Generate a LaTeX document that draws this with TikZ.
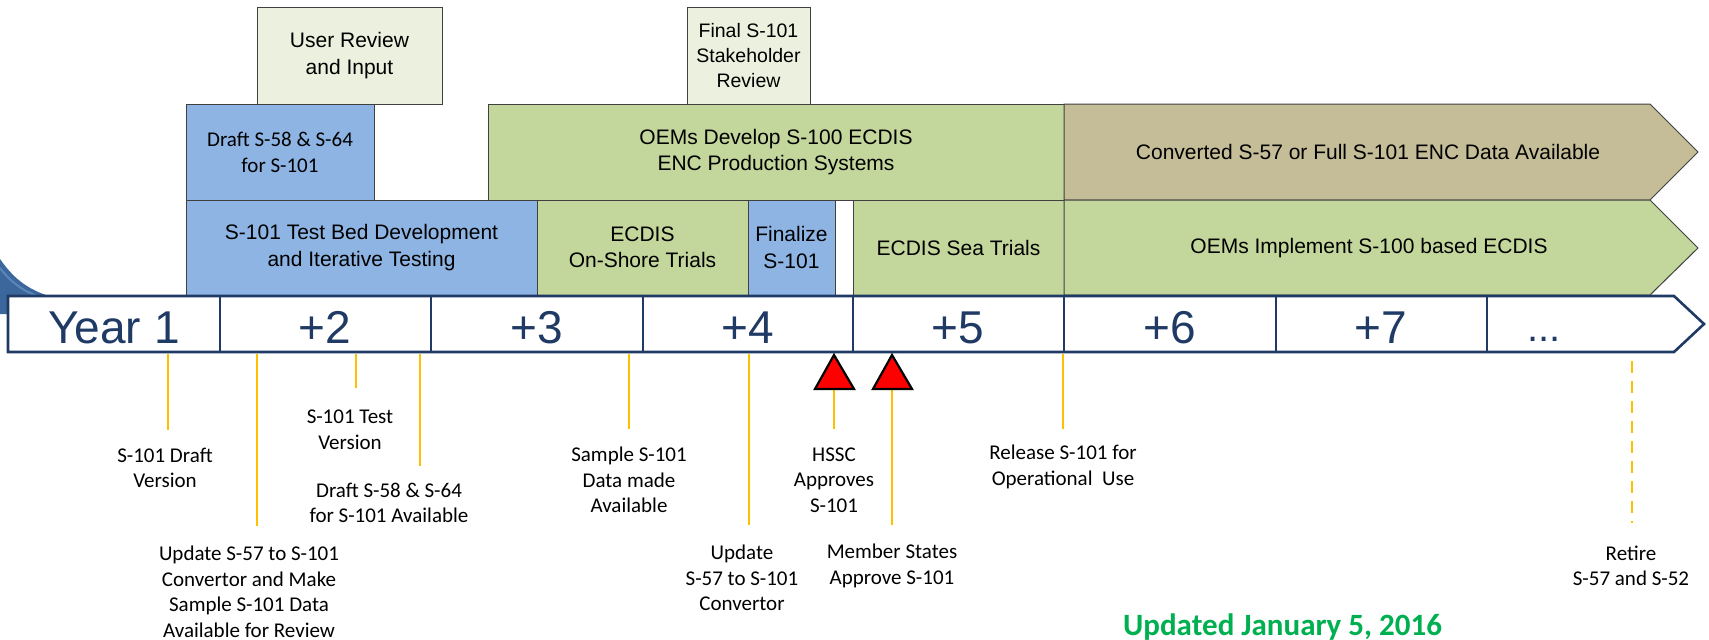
\documentclass[tikz,border=0pt]{standalone}
\usepackage{fontspec}
\setmainfont{Liberation Sans}
\newfontfamily\calfont{Carlito}
\definecolor{blueb}{HTML}{8EB4E3}
\definecolor{greenb}{HTML}{C3D69B}
\definecolor{paleb}{HTML}{EBF1DE}
\definecolor{brownb}{HTML}{C4BD97}
\definecolor{navy}{HTML}{1F3A64}
\definecolor{ylw}{HTML}{FFC000}
\definecolor{boxline}{HTML}{404040}
\definecolor{upd}{HTML}{00B050}
\definecolor{swoosh}{HTML}{3B679C}
\definecolor{swooshl}{HTML}{5A86B8}
\begin{document}
\begin{tikzpicture}[x=1pt,y=-1pt,
  box/.style={draw=boxline, line width=1pt, align=center, inner sep=0pt,
    font=\fontsize{21}{26.5}\selectfont},
  cbox/.style={box, font=\calfont\fontsize{21}{26}\selectfont},
  sbox/.style={box, font=\fontsize{19.5}{25}\selectfont},
  txt/.style={align=center, inner sep=0pt, font=\fontsize{21}{26.5}\selectfont},
  yr/.style={anchor=base, inner sep=0pt, text=navy, font=\fontsize{46}{50}\selectfont},
  lbl/.style={align=center, inner sep=0pt, font=\calfont\fontsize{21}{25.5}\selectfont},
  yl/.style={draw=ylw, line width=2.4pt},
  tri/.style={draw=black, fill=red, line width=2.2pt, line join=miter},
  chev/.style={draw=boxline, line width=1pt}
]
\useasboundingbox (0,0) rectangle (1709,640);
% swoosh
\fill[swoosh] (0,259) .. controls (12,276) and (25,289) .. (52,297) -- (8,297) -- (8,314) -- (0,314) -- cycle;
\draw[swooshl, line width=2pt] (0,268) .. controls (10,281) and (22,291) .. (40,297);
% top boxes
\node[box, fill=paleb, minimum width=185pt, minimum height=97pt] (userrev) at (349.5,55.5) {User Review\\and Input};
\node[sbox, fill=paleb, minimum width=123pt, minimum height=97pt] (final) at (748.5,55.5) {Final S-101\\Stakeholder\\Review};
\node[cbox, fill=blueb, minimum width=188pt, minimum height=96pt] (draft) at (280,152) {Draft S-58 \& S-64\\for S-101};
\node[box, fill=greenb, minimum width=576pt, minimum height=96pt] (oemdev) at (776,152) {OEMs Develop S-100 ECDIS\\ENC Production Systems};
\node[box, fill=blueb, minimum width=351pt, minimum height=95pt] (testbed) at (361.5,247.5) {S-101 Test Bed Development\\and Iterative Testing};
\node[box, fill=greenb, minimum width=211pt, minimum height=95pt] (onshore) at (642.5,247.5) {ECDIS\\On-Shore Trials};
\node[box, fill=blueb, minimum width=87pt, minimum height=95pt] (finalize) at (791.5,247.5) {Finalize\\S-101};
\node[box, fill=greenb, minimum width=211pt, minimum height=95pt] (seatrials) at (958.5,247.5) {ECDIS Sea Trials};
% chevrons
\draw[chev, fill=brownb] (1064,104) -- (1650,104) -- (1698,152) -- (1650,200) -- (1064,200) -- cycle;
\node[txt] (converted) at (1368,152) {Converted S-57 or Full S-101 ENC Data Available};
\draw[chev, fill=greenb] (1064,200) -- (1650,200) -- (1698,248) -- (1650,295) -- (1064,295) -- cycle;
\node[txt] (implement) at (1369,248) {OEMs Implement S-100 based ECDIS};
% timeline
\draw[navy, line width=2.6pt, fill=white, line join=miter] (8,296) -- (1674,296) -- (1704,324) -- (1674,352) -- (8,352) -- cycle;
\foreach \x in {220,431,643,853,1064,1276,1487} \draw[navy, line width=2pt] (\x,296) -- (\x,352);
\node[yr] (y1) at (114,343) {Year 1};
\node[yr] (y2) at (325,343) {+2};
\node[yr] (y3) at (537,343) {+3};
\node[yr] (y4) at (748,343) {+4};
\node[yr] (y5) at (958,343) {+5};
\node[yr] (y6) at (1170,343) {+6};
\node[yr] (y7) at (1381,343) {+7};
\node[yr, font=\fontsize{40}{44}\selectfont] (y8) at (1544,341) {...};
% milestone lines
\coordinate (a1) at (168,354); \coordinate (b1) at (168,430);
\coordinate (a2) at (257,354); \coordinate (b2) at (257,526);
\coordinate (a3) at (356,354); \coordinate (b3) at (356,388);
\coordinate (a4) at (420,354); \coordinate (b4) at (420,466);
\coordinate (a5) at (629,354); \coordinate (b5) at (629,429);
\coordinate (a6) at (749,354); \coordinate (b6) at (749,525);
\coordinate (a7) at (834,389); \coordinate (b7) at (834,429);
\coordinate (a8) at (892,389); \coordinate (b8) at (892,525);
\coordinate (a9) at (1063,354); \coordinate (b9) at (1063,429);
\coordinate (a10) at (1632,361); \coordinate (b10) at (1632,523);
\foreach \i in {1,...,9} \draw[yl] (a\i) -- (b\i);
\draw[yl, dash pattern=on 12pt off 8pt] (a10) -- (b10);
\draw[tri] (815,389) -- (834,355) -- (854,389) -- cycle;
\draw[tri] (873,389) -- (892,355) -- (912,389) -- cycle;
% labels
\node[lbl] (m1) at (165,468) {S-101 Draft\\Version};
\node[lbl] (m2) at (249,592) {Update S-57 to S-101\\Convertor and Make\\Sample S-101 Data\\Available for Review};
\node[lbl] (m3) at (350,430) {S-101 Test\\Version};
\node[lbl] (m4) at (389,503) {Draft S-58 \& S-64\\for S-101 Available};
\node[lbl] (m5) at (629,480) {Sample S-101\\Data made\\Available};
\node[lbl] (m6) at (742,578) {Update\\S-57 to S-101\\Convertor};
\node[lbl] (m7) at (834,480) {HSSC\\Approves\\S-101};
\node[lbl] (m8) at (892,566) {Member States\\Approve S-101};
\node[lbl] (m9) at (1063,467) {Release S-101 for\\Operational\ \ Use};
\node[lbl] (m10) at (1631,566) {Retire\\S-57 and S-52};
\node[anchor=west, inner sep=0pt, text=upd, font=\calfont\bfseries\fontsize{31}{34}\selectfont] (updated) at (1123,627) {Updated January 5, 2016};
\end{tikzpicture}
\end{document}
